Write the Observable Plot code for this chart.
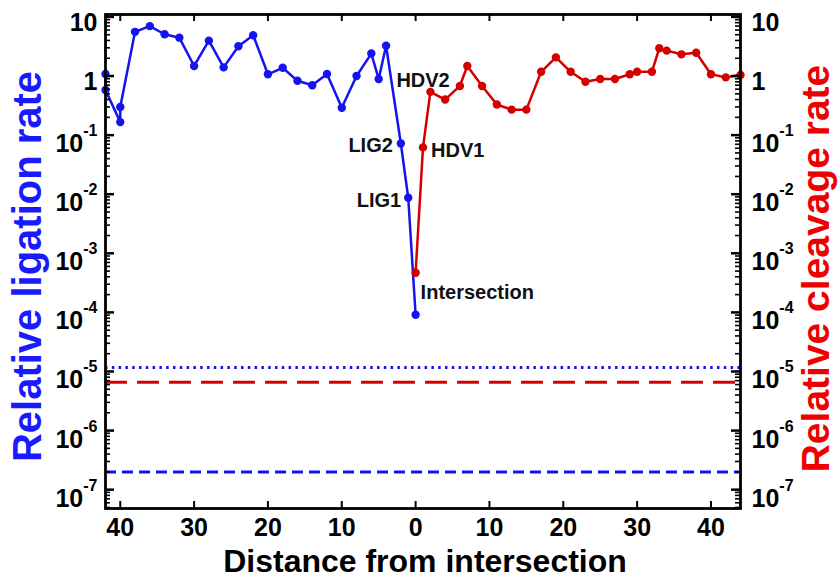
<!DOCTYPE html>
<html>
<head>
<meta charset="utf-8">
<script src="https://cdn.jsdelivr.net/npm/d3@7"></script>
<script src="https://cdn.jsdelivr.net/npm/@observablehq/plot@0.6"></script>
<style>
  html, body { margin: 0; padding: 0; background: #fff; }
  #chart svg { font-family: "Liberation Sans", Arial, Helvetica, sans-serif; }
</style>
</head>
<body>
<div id="chart"></div>
<script>
// ---- data ----
const ligationDistance = [-42, -42, -40, -40, -38, -36, -34, -32, -30, -28, -26, -24, -22, -20, -18, -16, -14, -12, -10, -8, -6, -5, -4, -2, -1, 0];
const ligationRate     = [1.08, 0.58, 0.166, 0.30, 5.6, 7.0, 5.1, 4.46, 1.48, 3.97, 1.40, 3.2, 4.9, 1.07, 1.38, 0.83, 0.70, 1.08, 0.29, 1.0, 2.4, 0.89, 3.26, 0.072, 0.0087, 9.1e-5];

const cleavageDistance = [0, 1, 2, 4, 6, 7, 9, 11, 13, 15, 17, 19, 21, 23, 25, 27, 29, 30, 32, 33, 34, 36, 38, 40, 42, 44];
const cleavageRate     = [4.7e-4, 0.062, 0.54, 0.40, 0.68, 1.48, 0.68, 0.33, 0.27, 0.27, 1.18, 2.07, 1.18, 0.80, 0.89, 0.89, 1.07, 1.18, 1.18, 2.95, 2.69, 2.33, 2.48, 1.07, 0.95, 1.04];

const ligationBackgroundDotted = 1.17e-5;
const cleavageBackgroundDashed = 6.6e-6;
const ligationBackgroundDashed = 2.0e-7;

const annotationLabels = ["LIG2", "LIG1", "HDV1", "HDV2", "Intersection"];
const annotationX      = [-2, -1, 1, 2, 0];
const annotationY      = [0.072, 0.0087, 0.062, 0.54, 4.7e-4];

const xTicks = [-40, -30, -20, -10, 0, 10, 20, 30, 40];
const yMajorTicks = [1e-7, 1e-6, 1e-5, 1e-4, 1e-3, 1e-2, 1e-1, 1, 10];
const yMinorTicks = d3.range(-8, 2).flatMap(e => d3.range(2, 10).map(m => +(m + "e" + e)))
  .filter(v => v > 4.8e-8 && v < 11);

// ---- layout / style ----
const W = 839, H = 580;
const mL = 105, mR = 99, mT = 14, mB = 72;
const frameW = W - mL - mR, frameH = H - mT - mB;
const blue = "#1414f0", red = "#d40000";
const titleBlue = "#1a1aff", titleRed = "#ee0000";

const yFmt = d => d === 10 ? "10" : d === 1 ? "1" : "10^" + Math.round(Math.log10(d));
const xFmt = d => String(Math.abs(d));

const ligIdx = d3.range(ligationDistance.length);
const clvIdx = d3.range(cleavageDistance.length);
const ann = name => [annotationLabels.indexOf(name)];
const annMark = (name, opts) => Plot.text(ann(name), {
  x: i => annotationX[i], y: i => annotationY[i], text: i => annotationLabels[i],
  fontSize: 20, fontWeight: "bold", fill: "#111", ...opts
});

const chart = Plot.plot({
  width: W, height: H,
  marginLeft: mL, marginRight: mR, marginTop: mT, marginBottom: mB,
  x: { domain: [-42, 44] },
  y: { type: "log", domain: [4.8e-8, 11] },
  style: { background: "white", fontFamily: "Liberation Sans, Arial, sans-serif" },
  marks: [
    // background reference levels
    Plot.ruleY([ligationBackgroundDotted], { stroke: blue, strokeWidth: 3, strokeDasharray: "2.5,4.3" }),
    Plot.ruleY([cleavageBackgroundDashed], { stroke: red, strokeWidth: 3, strokeDasharray: "22,10" }),
    Plot.ruleY([ligationBackgroundDashed], { stroke: blue, strokeWidth: 3, strokeDasharray: "11,6" }),

    // series
    Plot.line(ligIdx, { x: i => ligationDistance[i], y: i => ligationRate[i], stroke: blue, strokeWidth: 2.5 }),
    Plot.dot(ligIdx, { x: i => ligationDistance[i], y: i => ligationRate[i], fill: blue, r: 4.2 }),
    Plot.line(clvIdx, { x: i => cleavageDistance[i], y: i => cleavageRate[i], stroke: red, strokeWidth: 2.5 }),
    Plot.dot(clvIdx, { x: i => cleavageDistance[i], y: i => cleavageRate[i], fill: red, r: 4.2 }),

    // annotations
    annMark("LIG2", { textAnchor: "end", dx: -8, dy: 2 }),
    annMark("LIG1", { textAnchor: "end", dx: -7, dy: 3 }),
    annMark("HDV1", { textAnchor: "start", dx: 8, dy: 3 }),
    annMark("HDV2", { textAnchor: "start", dx: -34, dy: -11 }),
    annMark("Intersection", { textAnchor: "start", dx: 5, dy: 20 }),

    // inward ticks: x (bottom and top)
    Plot.tickX(xTicks, { x: d => d, stroke: "black", strokeWidth: 2, insetTop: frameH - 7 }),
    Plot.tickX(xTicks, { x: d => d, stroke: "black", strokeWidth: 2, insetBottom: frameH - 7 }),
    // inward ticks: y (left and right), major and minor
    Plot.tickY(yMajorTicks, { y: d => d, stroke: "black", strokeWidth: 2.5, insetRight: frameW - 9 }),
    Plot.tickY(yMajorTicks, { y: d => d, stroke: "black", strokeWidth: 2.5, insetLeft: frameW - 9 }),
    Plot.tickY(yMinorTicks, { y: d => d, stroke: "black", strokeWidth: 1.6, insetRight: frameW - 5 }),
    Plot.tickY(yMinorTicks, { y: d => d, stroke: "black", strokeWidth: 1.6, insetLeft: frameW - 5 }),

    Plot.frame({ stroke: "black", strokeWidth: 2.8 }),

    // axis labels
    Plot.axisX({ anchor: "bottom", ticks: xTicks, tickFormat: xFmt, tickSize: 0, tickPadding: 10,
      fontSize: 25, fontWeight: "bold", fill: "black" }),
    Plot.axisY({ anchor: "left", ticks: yMajorTicks, tickFormat: yFmt, tickSize: 0, tickPadding: 8,
      fontSize: 25, fontWeight: "bold", fill: "black" }),
    Plot.axisY({ anchor: "right", ticks: yMajorTicks, tickFormat: yFmt, tickSize: 0, tickPadding: 11,
      fontSize: 25, fontWeight: "bold", fill: "black" }),

    // axis titles
    Plot.text(["Relative ligation rate"], { frameAnchor: "left", textAnchor: "middle", lineAnchor: "middle",
      rotate: -90, dx: -77, dy: 5, fontSize: 40, fontWeight: "bold", fill: titleBlue }),
    Plot.text(["Relative cleavage rate"], { frameAnchor: "right", textAnchor: "middle", lineAnchor: "middle",
      rotate: -90, dx: 76, dy: 7, fontSize: 39, fontWeight: "bold", fill: titleRed }),
    Plot.text(["Distance from intersection"], { frameAnchor: "bottom", textAnchor: "middle", lineAnchor: "middle",
      dx: 2, dy: 53, fontSize: 32, fontWeight: "bold", fill: "black" })
  ]
});

// superscript exponents on the y tick labels
const ns = "http://www.w3.org/2000/svg";
chart.querySelectorAll('g[aria-label="y-axis tick label"] text').forEach(t => {
  const s = t.textContent;
  const m = s.match(/^10\^(.+)$/);
  t.textContent = "";
  const base = document.createElementNS(ns, "tspan");
  base.textContent = m ? "10" : s;
  base.setAttribute("dy", m ? 9 : 6);
  t.appendChild(base);
  if (m) {
    const sup = document.createElementNS(ns, "tspan");
    sup.textContent = m[1];
    sup.setAttribute("dy", -16);
    sup.setAttribute("font-size", 16);
    t.appendChild(sup);
  }
});

document.getElementById("chart").appendChild(chart);
</script>
</body>
</html>
